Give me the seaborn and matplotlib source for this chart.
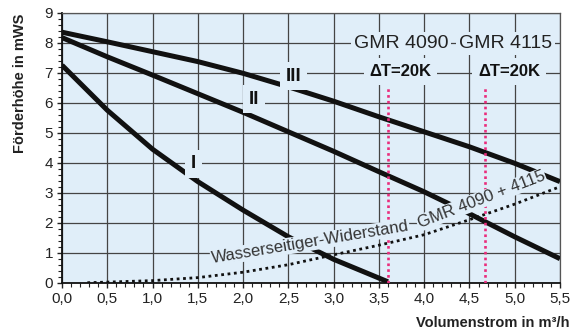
import numpy as np
import pandas as pd
import seaborn as sns
import matplotlib
matplotlib.use("Agg")
import matplotlib.pyplot as plt
from matplotlib.ticker import MultipleLocator

# pump curves (x in m3/h, y in mWS)
x_I = [0.0, 0.5, 1.0, 1.5, 2.0, 2.5, 3.0, 3.6]
y_I = [7.25, 5.75, 4.45, 3.37, 2.42, 1.53, 0.78, 0.03]

x_II = [0.0, 0.5, 1.0, 1.5, 2.0, 2.5, 3.0, 3.5, 4.0, 4.5, 5.0, 5.5]
y_II = [8.17, 7.53, 6.92, 6.3, 5.68, 5.03, 4.38, 3.7, 3.03, 2.3, 1.53, 0.8]

x_III = [0.0, 0.5, 1.0, 1.5, 2.0, 2.5, 3.0, 3.5, 4.0, 4.5, 5.0, 5.5]
y_III = [8.35, 8.03, 7.7, 7.37, 6.98, 6.53, 6.05, 5.53, 5.03, 4.53, 3.98, 3.37]

# water-side resistance GMR 4090 + 4115
x_res = [0.28, 0.5, 1.0, 1.5, 2.0, 2.5, 3.0, 3.5, 4.0, 4.5, 5.0, 5.5]
y_res = [0.0, 0.02, 0.07, 0.17, 0.35, 0.6, 0.93, 1.25, 1.6, 2.1, 2.62, 3.2]

# design flow at dT = 20K
flow_dt20 = [3.6, 4.67]
dt20_top = 6.5
models = ["GMR 4090", "GMR 4115"]

x_ticks = [0.0, 0.5, 1.0, 1.5, 2.0, 2.5, 3.0, 3.5, 4.0, 4.5, 5.0, 5.5]
y_ticks = list(range(10))

bg = "#e0eef9"

sns.set_style("ticks")
plt.rcParams["font.family"] = ["Liberation Sans", "DejaVu Sans"]

fig = plt.figure(figsize=(5.73, 3.29), dpi=100)
ax = fig.add_axes([0.1082, 0.1407, 0.8691, 0.8207])
ax.set_facecolor(bg)

for xs, ys in [(x_I, y_I), (x_II, y_II), (x_III, y_III)]:
    df = pd.DataFrame({"x": xs, "y": ys})
    sns.lineplot(data=df, x="x", y="y", ax=ax, color="#111111", lw=3.6,
                 solid_capstyle="butt", zorder=4)

res = pd.DataFrame({"x": x_res, "y": y_res})
sns.lineplot(data=res, x="x", y="y", ax=ax, color="#111111", lw=2.0,
             linestyle=(0, (1, 1.3)), zorder=3)

for xv in flow_dt20:
    ax.plot([xv, xv], [0, dt20_top], color="#ea2c7c", lw=1.9,
            linestyle=(0, (1, 1.2)), zorder=5)

ax.set_xlim(0, 5.5)
ax.set_ylim(0, 9)
ax.set_xticks(x_ticks)
ax.set_xticklabels([f"{v:.1f}".replace(".", ",") for v in x_ticks])
ax.set_yticks(y_ticks)
ax.xaxis.set_minor_locator(MultipleLocator(0.1))
ax.yaxis.set_minor_locator(MultipleLocator(0.2))
ax.tick_params(which="major", length=3.5, width=1, labelsize=11, colors="#222222", pad=3)
ax.tick_params(which="minor", length=3, width=0.8, color="#222222")
ax.grid(True, which="major", color="#444444", lw=0.9)
ax.set_axisbelow(True)
for s in ["top", "right"]:
    ax.spines[s].set_color("#555555")
    ax.spines[s].set_linewidth(0.9)
for s in ["left", "bottom"]:
    ax.spines[s].set_color("#111111")
    ax.spines[s].set_linewidth(1.3)

ax.set_xlabel("Volumenstrom in m³/h", fontsize=10.5, fontweight="bold", color="#222222")
ax.xaxis.set_label_coords(1.02, -0.15)
ax.xaxis.label.set_ha("right")
ax.xaxis.label.set_va("center")
ax.set_ylabel("Förderhöhe in mWS", fontsize=10.5, fontweight="bold", color="#222222")
ax.yaxis.set_label_coords(-0.084, 0.74)
ax.yaxis.label.set_va("center")

box = dict(boxstyle="square,pad=0.3", fc=bg, ec="none")
for lab, xp, yp in [("I", 1.45, 3.96), ("II", 2.12, 6.12), ("III", 2.56, 6.89)]:
    ax.text(xp, yp, lab, fontsize=13.5, fontweight="bold", color="#111111",
            ha="center", va="center", bbox=box, zorder=6)

ax.text(3.745, 7.98, models[0], fontsize=14, color="#222222", ha="center", va="center",
        bbox=dict(boxstyle="square,pad=0.15", fc=bg, ec="none"), zorder=6)
ax.text(4.90, 7.98, models[1], fontsize=14, color="#222222", ha="center", va="center",
        bbox=dict(boxstyle="square,pad=0.15", fc=bg, ec="none"), zorder=6)
for xp in [3.74, 4.94]:
    ax.text(xp, 7.03, "ΔT=20K", fontsize=12, fontweight="bold", color="#111111",
            ha="center", va="center",
            bbox=dict(boxstyle="square,pad=0.35", fc=bg, ec="none"), zorder=6)

ax.text(1.66, 0.65, "Wasserseitiger-Widerstand", fontsize=12, color="#333333",
        rotation=9.4, rotation_mode="anchor", ha="left", va="baseline", zorder=6,
        bbox=dict(boxstyle="square,pad=0.05", fc=bg, ec="none"))
ax.text(3.95, 1.82, "GMR 4090 + 4115", fontsize=12, color="#333333",
        rotation=21, rotation_mode="anchor", ha="left", va="baseline", zorder=6,
        bbox=dict(boxstyle="square,pad=0.05", fc=bg, ec="none"))

fig.savefig("out.png", dpi=100, facecolor="white")
